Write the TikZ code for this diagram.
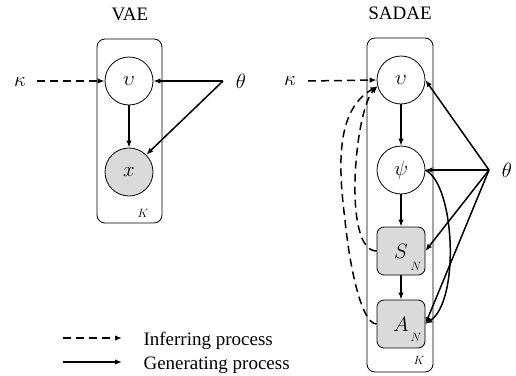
\documentclass[tikz,border=0pt]{standalone}
\usepackage{fontspec}
\setmainfont{Liberation Serif}
\usetikzlibrary{arrows.meta}
\definecolor{obsgray}{RGB}{218,218,218}
\begin{document}
\begin{tikzpicture}[x=1pt,y=-1pt,
  title/.style={font=\fontsize{19}{22}\selectfont,anchor=base},
  legtext/.style={font=\fontsize{19}{22}\selectfont,anchor=base west},
  mathlbl/.style={font=\fontsize{22}{24}\selectfont,inner sep=0pt},
  plate/.style={draw,rounded corners=8pt,line width=0.8pt,inner sep=0pt},
  platelbl/.style={font=\fontsize{12}{13}\selectfont,inner sep=0pt},
  latent/.style={circle,draw,line width=0.8pt,minimum size=48pt,inner sep=0pt,font=\fontsize{22}{24}\selectfont},
  obs/.style={latent,fill=obsgray},
  obsbox/.style={draw,rounded corners=7pt,fill=obsgray,minimum size=48pt,inner sep=0pt,line width=0.8pt,font=\fontsize{22}{24}\selectfont},
  gen/.style={-{Latex[length=7pt,width=5.5pt]},line width=1.5pt},
  infer/.style={gen,dash pattern=on 8pt off 5pt},
]
\useasboundingbox (0,0) rectangle (516,375);

% titles
\node[title] (tvae) at (130,20) {VAE};
\node[title] (tsad) at (400,19) {SADAE};

% ---------- VAE ----------
\node[plate,minimum width=65pt,minimum height=184pt] (p1) at (129.5,131) {};
\node[platelbl] (K1) at (143,213) {$K$};
\node[latent] (v1) at (129,81) {$\upsilon$};
\node[obs] (x1) at (129,172) {$x$};
\node[mathlbl] (kap1) at (20,82) {$\kappa$};
\coordinate (k1s) at (37,81);
\node[mathlbl] (th1) at (241,81) {$\theta$};
\coordinate (th1s) at (223,81);

\draw[infer] (k1s) -- (v1.west);
\draw[gen] (th1s) -- (v1.east);
\draw[gen] (th1s) -- (x1.45);
\draw[gen] (v1) -- (x1);

% ---------- SADAE ----------
\node[plate,minimum width=66pt,minimum height=334pt] (p2) at (400,205) {};
\node[platelbl] (K2) at (419,360) {$K$};
\node[latent] (v2) at (401,80) {$\upsilon$};
\node[latent] (psi) at (401,170) {$\psi$};
\node[obsbox] (S) at (401,251) {$S$};
\node[obsbox] (A) at (401,324) {$A$};
\node[platelbl] (NS) at (416,266) {$N$};
\node[platelbl] (NA) at (416,337) {$N$};
\node[mathlbl] (kap2) at (290,81) {$\kappa$};
\coordinate (k2s) at (308,81);
\node[mathlbl] (th2) at (507,170) {$\theta$};
\coordinate (th2s) at (489,170);

\draw[infer] (k2s) -- (v2.west);
\draw[gen] (v2) -- (psi);
\draw[gen] (psi) -- (S);
\draw[gen] (S) -- (A);
\draw[gen] (th2s) -- (v2.east);
\draw[gen] (th2s) -- (psi.east);
\draw[gen] (th2s) -- (S.east);
\draw[gen] (th2s) -- (A.east);
\draw[gen] (psi.east) .. controls (455,185) and (460,300) .. (A.east);
\draw[infer] (S.west) .. controls (342,251) and (355,110) .. (v2.195);
\draw[infer] (A.west) .. controls (362,324) and (350,270) .. (345,220) .. controls (338,165) and (336,110) .. (v2.195);

% ---------- legend ----------
\coordinate (lg1a) at (63,338);
\coordinate (lg1b) at (122,338);
\coordinate (lg2a) at (63,362);
\coordinate (lg2b) at (122,362);
\draw[infer] (lg1a) -- (lg1b);
\draw[gen] (lg2a) -- (lg2b);
\node[legtext] (l1) at (140,345) {Inferring process};
\node[legtext] (l2) at (140,369) {Generating process};
\end{tikzpicture}
\end{document}
